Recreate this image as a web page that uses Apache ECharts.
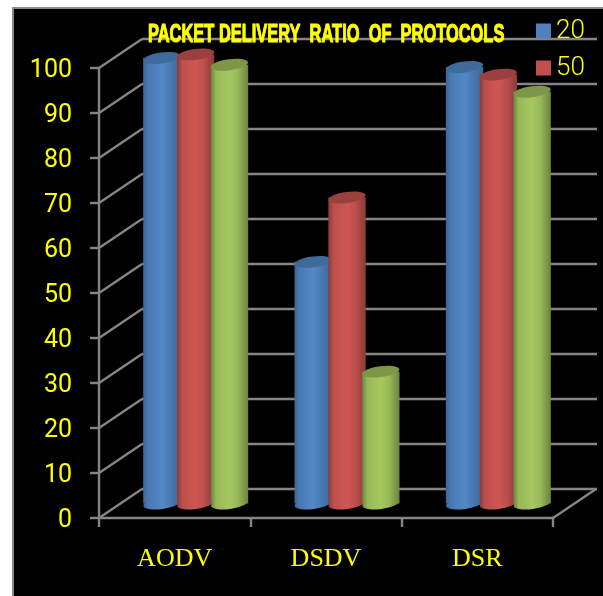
<!DOCTYPE html>
<html>
<head>
<meta charset="utf-8">
<script src="https://cdn.jsdelivr.net/npm/echarts@6/dist/echarts.min.js"></script>
<style>
html,body{margin:0;padding:0;background:#fff;width:603px;height:596px;overflow:hidden}
#frame{position:absolute;left:12px;top:7px;width:600px;height:600px;background:#000;border:2px solid #8a8a8a;box-sizing:border-box}
#chart{position:absolute;left:0;top:0;width:603px;height:596px}
</style>
</head>
<body>
<div id="frame"></div>
<div id="chart"></div>
<script>
const categories = ['AODV', 'DSDV', 'DSR'];
const series20 = [99, 53.7, 97];
const series50 = [99.8, 68, 95.3];
const series3 = [97.5, 29.3, 91.5];
const yTicks = [0, 10, 20, 30, 40, 50, 60, 70, 80, 90, 100];
const titleText = 'PACKET DELIVERY  RATIO  OF  PROTOCOLS';

const GRAY = '#858585', YELLOW = '#ffff00';
const wallDx = 43, wallDy = -29;

function cylinder(colors, index) {
  return function (params, api) {
    const c = api.coord([api.value(0), api.value(1)]);
    const base = api.coord([api.value(0), 0]);
    const band = api.size([1, 0])[0];
    const bw = band * 0.247, step = band * 0.2235;
    const cx = c[0] + (index - 1) * step;
    const rx = bw / 2, ry = 5.5, rot = 0.13;
    const fill = new echarts.graphic.LinearGradient(0, 0, 1, 0, [
      { offset: 0, color: colors[0] },
      { offset: 0.14, color: colors[1] },
      { offset: 0.5, color: colors[2] },
      { offset: 0.72, color: colors[1] },
      { offset: 1, color: colors[0] }
    ]);
    return {
      type: 'group',
      children: [
        { type: 'ellipse', shape: { cx: cx, cy: base[1], rx: rx, ry: ry }, rotation: rot, originX: cx, originY: base[1], style: { fill: fill } },
        { type: 'rect', shape: { x: cx - rx, y: c[1], width: bw, height: base[1] - c[1] }, style: { fill: fill } },
        { type: 'ellipse', shape: { cx: cx, cy: c[1], rx: rx, ry: ry }, rotation: rot, originX: cx, originY: c[1], style: { fill: colors[3] } }
      ]
    };
  };
}

function diagonal(params, api) {
  const y = api.coord([0, api.value(0)])[1];
  const x = params.coordSys.x;
  const line = (x0) => ({
    type: 'line',
    shape: { x1: x0, y1: y, x2: x0 + wallDx, y2: y + wallDy },
    style: { stroke: GRAY, lineWidth: 2.4 }
  });
  const kids = [line(x)];
  if (api.value(0) === 0) kids.push(line(x + params.coordSys.width));
  return { type: 'group', children: kids };
}

const chart = echarts.init(document.getElementById('chart'), null, { renderer: 'canvas' });
chart.setOption({
  animation: false,
  backgroundColor: 'transparent',
  graphic: [{
    type: 'text', x: 148, y: 22, scaleX: 0.632, z: 20, silent: true,
    style: { text: titleText, fill: YELLOW, stroke: YELLOW, lineWidth: 1.1,
      font: 'bold 26px "Liberation Sans"' }
  }],
  legend: {
    data: ['20', '50'], orient: 'vertical', left: 531, top: 13, itemWidth: 15, itemHeight: 15, itemGap: 11,
    icon: 'rect',
    textStyle: { color: YELLOW, fontFamily: 'Roboto', fontSize: 26, fontWeight: 300 }
  },
  grid: [
    { left: 99, top: 68, width: 454, height: 450 },
    { left: 142, top: 39, width: 455, height: 450 },
    { left: 120, top: 53.5, width: 454, height: 450 }
  ],
  xAxis: [
    { type: 'category', gridIndex: 0, data: categories,
      axisLine: { lineStyle: { color: GRAY, width: 2.4 } },
      axisTick: { show: true, length: 9, lineStyle: { color: GRAY, width: 2.4 } },
      axisLabel: { color: YELLOW, fontFamily: 'Liberation Serif', fontSize: 26, margin: 28 } },
    { type: 'category', gridIndex: 1, data: categories, show: false },
    { type: 'category', gridIndex: 2, data: categories, show: false }
  ],
  yAxis: [
    { type: 'value', gridIndex: 0, min: 0, max: 100, interval: 10, splitLine: { show: false },
      axisLine: { show: true, lineStyle: { color: GRAY, width: 2.4 } },
      axisTick: { show: true, length: 9, lineStyle: { color: GRAY, width: 2.4 } },
      axisLabel: { color: YELLOW, fontFamily: 'Roboto', fontSize: 25, margin: 27, verticalAlign: 'top', lineHeight: 5 } },
    { type: 'value', gridIndex: 1, min: 0, max: 100, interval: 10,
      axisLine: { show: false }, axisTick: { show: false }, axisLabel: { show: false },
      splitLine: { show: true, lineStyle: { color: GRAY, width: 2.4 } } },
    { type: 'value', gridIndex: 2, min: 0, max: 100, interval: 10, show: false, splitLine: { show: false } }
  ],
  series: [
    { type: 'custom', name: 'walls', xAxisIndex: 0, yAxisIndex: 0, silent: true, z: 1,
      data: yTicks.map(v => [v]), encode: { y: 0 }, renderItem: diagonal },
    { type: 'custom', name: '20', xAxisIndex: 2, yAxisIndex: 2, z: 3, itemStyle: { color: '#4f81bd' },
      data: categories.map((c, i) => [i, series20[i]]), encode: { x: 0, y: 1 },
      renderItem: cylinder(['#3d6594', '#4a7ab4', '#5288c8', '#3f6a9c'], 0) },
    { type: 'custom', name: '50', xAxisIndex: 2, yAxisIndex: 2, z: 4, itemStyle: { color: '#c0504d' },
      data: categories.map((c, i) => [i, series50[i]]), encode: { x: 0, y: 1 },
      renderItem: cylinder(['#8a3b39', '#bc4f4c', '#cf5653', '#9a403e'], 1) },
    { type: 'custom', name: 'Series 3', xAxisIndex: 2, yAxisIndex: 2, z: 5, itemStyle: { color: '#9bbb59' },
      data: categories.map((c, i) => [i, series3[i]]), encode: { x: 0, y: 1 },
      renderItem: cylinder(['#6c8340', '#98b858', '#a6c860', '#7d9648'], 2) }
  ]
});
</script>
</body>
</html>
